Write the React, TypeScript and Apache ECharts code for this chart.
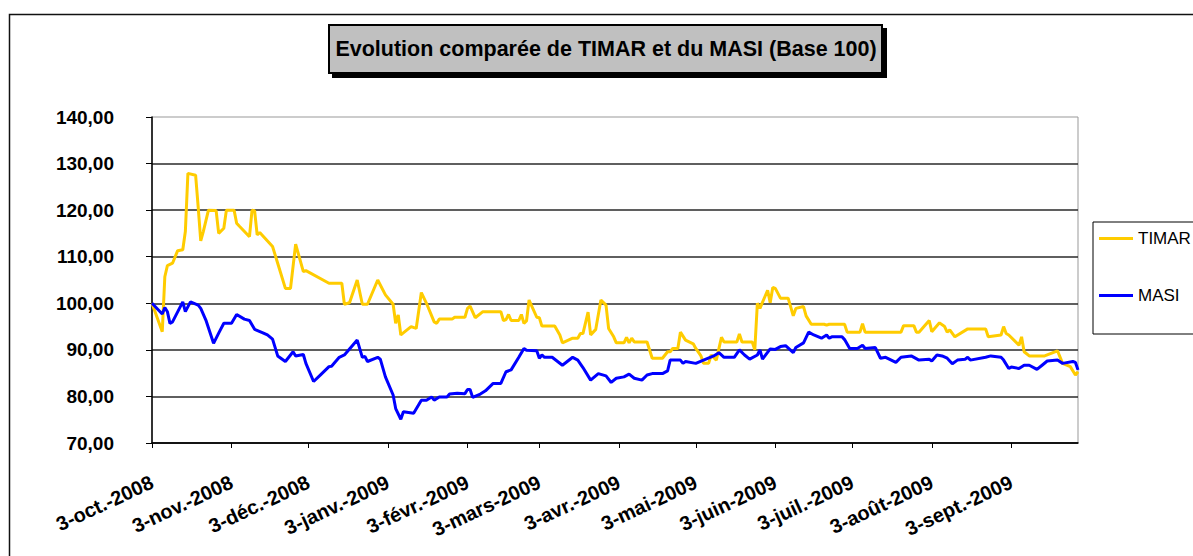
import React, { useEffect, useRef } from 'react';
import * as echarts from 'echarts';

const START_DAY = '2008-10-03';
const END_DAY = '2009-09-29';
const MONTHS_FR = ['janv.', 'févr.', 'mars', 'avr.', 'mai', 'juin', 'juil.', 'août', 'sept.', 'oct.', 'nov.', 'déc.'];
const Y_MIN = 70;
const Y_MAX = 140;
const Y_STEP = 10;
const TITLE = 'Evolution comparée de TIMAR et du MASI (Base 100)';
const SERIES_NAMES = ['TIMAR', 'MASI'];

const timar: [string, number][] = [
  ['2008-10-03', 100], ['2008-10-07', 93.9], ['2008-10-08', 105.7], ['2008-10-09', 108.1], ['2008-10-11', 108.6],
  ['2008-10-13', 111.3], ['2008-10-15', 111.5], ['2008-10-16', 115.4], ['2008-10-17', 127.9], ['2008-10-20', 127.5],
  ['2008-10-21', 120.7], ['2008-10-22', 113.4], ['2008-10-23', 115.4], ['2008-10-25', 120], ['2008-10-28', 119.9],
  ['2008-10-29', 115], ['2008-10-31', 116.1], ['2008-11-01', 120], ['2008-11-04', 120], ['2008-11-05', 117.2],
  ['2008-11-06', 116.6], ['2008-11-10', 114.3], ['2008-11-11', 120], ['2008-11-12', 119.9], ['2008-11-13', 114.7],
  ['2008-11-14', 115.2], ['2008-11-19', 112.2], ['2008-11-20', 110.4], ['2008-11-21', 108.6], ['2008-11-24', 103.2],
  ['2008-11-26', 103.2], ['2008-11-28', 112.7], ['2008-12-01', 106.8], ['2008-12-02', 107], ['2008-12-11', 104.3],
  ['2008-12-16', 104.3], ['2008-12-17', 99.8], ['2008-12-19', 100.1], ['2008-12-22', 105], ['2008-12-24', 99.8],
  ['2008-12-26', 99.8], ['2008-12-30', 105], ['2009-01-02', 101.8], ['2009-01-05', 99.8], ['2009-01-06', 95.7],
  ['2009-01-07', 97.5], ['2009-01-08', 93.2], ['2009-01-12', 95], ['2009-01-14', 94.6], ['2009-01-16', 102.3],
  ['2009-01-18', 100], ['2009-01-21', 96], ['2009-01-22', 95.7], ['2009-01-23', 96.6], ['2009-01-28', 96.6],
  ['2009-01-29', 97], ['2009-02-02', 97], ['2009-02-03', 98.9], ['2009-02-04', 99.4], ['2009-02-06', 96.9],
  ['2009-02-09', 98.2], ['2009-02-16', 98.2], ['2009-02-17', 96.3], ['2009-02-18', 96.5], ['2009-02-19', 97.6],
  ['2009-02-20', 96.3], ['2009-02-23', 96.3], ['2009-02-24', 97.6], ['2009-02-25', 95.7], ['2009-02-26', 96.2],
  ['2009-02-27', 100.7], ['2009-03-02', 97], ['2009-03-03', 96.9], ['2009-03-04', 95.1], ['2009-03-09', 95.1],
  ['2009-03-11', 93.2], ['2009-03-12', 91.5], ['2009-03-16', 92.5], ['2009-03-18', 92.5], ['2009-03-19', 93.5],
  ['2009-03-20', 93.5], ['2009-03-22', 98.1], ['2009-03-23', 93.2], ['2009-03-25', 94.4], ['2009-03-27', 100.7],
  ['2009-03-29', 99.6], ['2009-03-30', 94.6], ['2009-04-01', 92.8], ['2009-04-02', 91.5], ['2009-04-05', 91.5],
  ['2009-04-06', 92.7], ['2009-04-07', 91.5], ['2009-04-08', 92.5], ['2009-04-09', 91.7], ['2009-04-14', 91.7],
  ['2009-04-16', 88.2], ['2009-04-20', 88.2], ['2009-04-22', 89.6], ['2009-04-23', 89.6], ['2009-04-24', 90.3],
  ['2009-04-26', 90.3], ['2009-04-27', 93.8], ['2009-04-29', 92.1], ['2009-05-02', 91.3], ['2009-05-03', 90.3],
  ['2009-05-05', 88.7], ['2009-05-06', 87.1], ['2009-05-08', 87.1], ['2009-05-09', 88.9], ['2009-05-11', 87.8],
  ['2009-05-13', 92.7], ['2009-05-14', 91.7], ['2009-05-19', 91.7], ['2009-05-20', 93.4], ['2009-05-21', 91.7],
  ['2009-05-25', 91.7], ['2009-05-26', 90], ['2009-05-27', 100], ['2009-05-28', 98.9], ['2009-05-31', 102.8],
  ['2009-06-01', 100.1], ['2009-06-02', 103.4], ['2009-06-03', 103.2], ['2009-06-05', 101.1], ['2009-06-08', 101.1],
  ['2009-06-10', 97.3], ['2009-06-11', 98.9], ['2009-06-14', 99.3], ['2009-06-15', 97.3], ['2009-06-17', 95.5],
  ['2009-06-22', 95.5], ['2009-06-23', 95.3], ['2009-06-24', 95.5], ['2009-06-30', 95.5], ['2009-07-01', 93.8],
  ['2009-07-06', 93.8], ['2009-07-07', 95.6], ['2009-07-08', 93.8], ['2009-07-22', 93.8], ['2009-07-23', 95.2],
  ['2009-07-27', 95.2], ['2009-07-28', 93.8], ['2009-07-29', 93.8], ['2009-08-02', 96.3], ['2009-08-03', 93.9],
  ['2009-08-06', 95.8], ['2009-08-08', 95], ['2009-08-09', 93.8], ['2009-08-10', 94.3], ['2009-08-12', 92.8],
  ['2009-08-17', 94.5], ['2009-08-24', 94.5], ['2009-08-25', 92.8], ['2009-08-30', 93.2], ['2009-08-31', 95],
  ['2009-09-01', 93.5], ['2009-09-02', 93.2], ['2009-09-06', 91], ['2009-09-07', 92.8], ['2009-09-08', 89.6],
  ['2009-09-10', 88.7], ['2009-09-16', 88.7], ['2009-09-21', 89.8], ['2009-09-23', 87.1], ['2009-09-26', 86.4],
  ['2009-09-28', 84.6], ['2009-09-29', 85.3],
];

const masi: [string, number][] = [
  ['2008-10-03', 100], ['2008-10-07', 97.7], ['2008-10-08', 99.1], ['2008-10-09', 98.2], ['2008-10-10', 95.7],
  ['2008-10-11', 96], ['2008-10-15', 100.3], ['2008-10-16', 98.2], ['2008-10-18', 100.3], ['2008-10-21', 99.6],
  ['2008-10-22', 98.9], ['2008-10-24', 96.4], ['2008-10-27', 91.4], ['2008-10-29', 93.6], ['2008-10-31', 95.7],
  ['2008-11-03', 95.7], ['2008-11-05', 97.6], ['2008-11-08', 96.6], ['2008-11-10', 96.3], ['2008-11-12', 94.4],
  ['2008-11-15', 93.7], ['2008-11-17', 93.2], ['2008-11-19', 92.3], ['2008-11-21', 88.7], ['2008-11-24', 87.5],
  ['2008-11-27', 89.6], ['2008-11-28', 88.7], ['2008-12-01', 89], ['2008-12-02', 87.1], ['2008-12-05', 83.2],
  ['2008-12-08', 84.8], ['2008-12-11', 86.4], ['2008-12-12', 86.5], ['2008-12-15', 88.4], ['2008-12-17', 88.9],
  ['2008-12-22', 92.1], ['2008-12-24', 88.4], ['2008-12-25', 88.6], ['2008-12-26', 87.5], ['2008-12-30', 88.4],
  ['2008-12-31', 88], ['2009-01-02', 84.2], ['2009-01-05', 80.3], ['2009-01-06', 77.4], ['2009-01-08', 75.1],
  ['2009-01-09', 76.7], ['2009-01-13', 76.4], ['2009-01-16', 79.2], ['2009-01-18', 79.2], ['2009-01-20', 79.9],
  ['2009-01-21', 79.2], ['2009-01-23', 79.9], ['2009-01-26', 79.9], ['2009-01-27', 80.5], ['2009-01-30', 80.7],
  ['2009-02-02', 80.6], ['2009-02-03', 81.5], ['2009-02-04', 81.5], ['2009-02-05', 79.8], ['2009-02-08', 80.5],
  ['2009-02-10', 81.2], ['2009-02-13', 82.8], ['2009-02-16', 82.8], ['2009-02-18', 85.3], ['2009-02-20', 85.7],
  ['2009-02-23', 88.4], ['2009-02-25', 90.3], ['2009-02-26', 89.9], ['2009-03-02', 89.8], ['2009-03-03', 88.2],
  ['2009-03-04', 88.9], ['2009-03-05', 88.4], ['2009-03-08', 88.4], ['2009-03-12', 86.7], ['2009-03-16', 88.4],
  ['2009-03-18', 87.8], ['2009-03-20', 86.2], ['2009-03-23', 83.5], ['2009-03-26', 84.9], ['2009-03-29', 84.4],
  ['2009-03-31', 83], ['2009-04-02', 83.9], ['2009-04-05', 84.2], ['2009-04-07', 84.8], ['2009-04-09', 83.9],
  ['2009-04-12', 83.5], ['2009-04-14', 84.6], ['2009-04-16', 84.9], ['2009-04-20', 84.9], ['2009-04-22', 85.5],
  ['2009-04-23', 87.8], ['2009-04-27', 87.8], ['2009-04-28', 87.1], ['2009-04-29', 87.5], ['2009-05-03', 87.1],
  ['2009-05-06', 87.8], ['2009-05-10', 88.7], ['2009-05-12', 89.4], ['2009-05-14', 88.4], ['2009-05-18', 88.4],
  ['2009-05-20', 90], ['2009-05-22', 88.9], ['2009-05-24', 88], ['2009-05-27', 88.9], ['2009-05-28', 90],
  ['2009-05-29', 88], ['2009-06-01', 90.2], ['2009-06-03', 90.1], ['2009-06-05', 90.7], ['2009-06-07', 90.9],
  ['2009-06-10', 89.4], ['2009-06-11', 90.5], ['2009-06-14', 91.5], ['2009-06-16', 93.8], ['2009-06-18', 93.2],
  ['2009-06-21', 92.5], ['2009-06-23', 93.2], ['2009-06-24', 92.5], ['2009-06-25', 92.8], ['2009-06-29', 92.8],
  ['2009-06-30', 92.2], ['2009-07-02', 90.3], ['2009-07-05', 90.3], ['2009-07-07', 91], ['2009-07-08', 90.3],
  ['2009-07-12', 90.5], ['2009-07-14', 88.2], ['2009-07-16', 88.4], ['2009-07-20', 87.3], ['2009-07-22', 88.4],
  ['2009-07-26', 88.7], ['2009-07-29', 87.8], ['2009-08-02', 88], ['2009-08-03', 87.6], ['2009-08-05', 88.9],
  ['2009-08-07', 88.7], ['2009-08-09', 88.2], ['2009-08-11', 87], ['2009-08-13', 87.8], ['2009-08-16', 88],
  ['2009-08-17', 88.4], ['2009-08-18', 87.8], ['2009-08-24', 88.4], ['2009-08-26', 88.7], ['2009-08-30', 88.4],
  ['2009-08-31', 87.8], ['2009-09-02', 86], ['2009-09-03', 86.3], ['2009-09-06', 86], ['2009-09-08', 86.7],
  ['2009-09-10', 86.7], ['2009-09-13', 85.8], ['2009-09-15', 86.7], ['2009-09-17', 87.6], ['2009-09-21', 87.8],
  ['2009-09-23', 87.1], ['2009-09-27', 87.5], ['2009-09-28', 87.3], ['2009-09-29', 85.7],
];

function buildDays(start: string, end: string): string[] {
  const out: string[] = [];
  const d = new Date(start + 'T00:00:00Z');
  const e = new Date(end + 'T00:00:00Z');
  while (d.getTime() <= e.getTime()) {
    out.push(d.toISOString().slice(0, 10));
    d.setUTCDate(d.getUTCDate() + 1);
  }
  return out;
}

const days = buildDays(START_DAY, END_DAY);

function frLabel(iso: string): string {
  const [y, m, dd] = iso.split('-');
  return `${Number(dd)}-${MONTHS_FR[Number(m) - 1]}-${y}`;
}

const isTickDay = (_i: number, v: string) => typeof v === 'string' && v.endsWith('-03');

const FONT = '"Liberation Sans", Arial, sans-serif';

export default function App() {
  const ref = useRef<HTMLDivElement>(null);

  useEffect(() => {
    if (!ref.current) return;
    const chart = echarts.init(ref.current, null, { renderer: 'svg' });
    chart.setOption({
      animation: false,
      backgroundColor: '#ffffff',
      grid: {
        left: 152,
        right: 115,
        top: 117,
        bottom: 113,
        show: true,
        borderColor: '#999999',
        borderWidth: 1,
        backgroundColor: 'transparent',
      },
      xAxis: {
        type: 'category',
        data: days,
        boundaryGap: false,
        axisLine: { show: true, lineStyle: { color: '#000', width: 1.5 } },
        axisTick: { show: true, interval: isTickDay, length: 5, lineStyle: { color: '#000', width: 1 } },
        axisLabel: {
          interval: isTickDay,
          formatter: (v: string) => frLabel(v),
          rotate: 25,
          margin: 38,
          fontFamily: FONT,
          fontWeight: 'bold',
          fontSize: 20,
          color: '#000',
        },
        splitLine: { show: false },
      },
      yAxis: {
        type: 'value',
        min: Y_MIN,
        max: Y_MAX,
        interval: Y_STEP,
        axisLine: { show: true, lineStyle: { color: '#000', width: 1.5 } },
        axisTick: { show: true, length: 6, lineStyle: { color: '#000', width: 1 } },
        axisLabel: {
          formatter: (v: number) => v.toFixed(2).replace('.', ','),
          margin: 38,
          fontFamily: FONT,
          fontWeight: 'bold',
          fontSize: 19,
          color: '#000',
        },
        splitLine: { show: true, showMaxLine: false, lineStyle: { color: '#2a2a2a', width: 1.5 } },
      },
      legend: {
        orient: 'vertical',
        left: 1093,
        top: 222,
        padding: [8, 20, 30, 6],
        itemWidth: 34,
        itemHeight: 3,
        itemGap: 40,
        icon: 'rect',
        borderColor: '#000',
        borderWidth: 1,
        backgroundColor: '#fff',
        data: SERIES_NAMES,
        textStyle: { fontFamily: FONT, fontSize: 17, color: '#000' },
      },
      series: [
        {
          name: SERIES_NAMES[0],
          type: 'line',
          data: timar,
          symbol: 'none',
          lineStyle: { color: '#FFCC00', width: 3 },
          itemStyle: { color: '#FFCC00' },
          z: 3,
        },
        {
          name: SERIES_NAMES[1],
          type: 'line',
          data: masi,
          symbol: 'none',
          lineStyle: { color: '#0000FF', width: 3 },
          itemStyle: { color: '#0000FF' },
          z: 4,
        },
      ],
      graphic: [
        {
          type: 'rect',
          silent: true,
          z: -10,
          shape: { x: 9.5, y: 14.5, width: 1400, height: 800 },
          style: { fill: 'none', stroke: '#111', lineWidth: 1.5 },
        },
        {
          type: 'rect',
          silent: true,
          z: 10,
          shape: { x: 333, y: 29, width: 553, height: 48 },
          style: { fill: '#000', stroke: '#000', lineWidth: 2 },
        },
        {
          type: 'rect',
          silent: true,
          z: 11,
          shape: { x: 329, y: 25, width: 553, height: 48 },
          style: { fill: '#c0c0c0', stroke: '#000', lineWidth: 2 },
        },
        {
          type: 'text',
          silent: true,
          z: 12,
          x: 606,
          y: 49,
          style: {
            text: TITLE,
            fontFamily: FONT,
            fontWeight: 'bold',
            fontSize: 21.5,
            fill: '#000',
            align: 'center',
            verticalAlign: 'middle',
          },
        },
      ],
    });
    return () => chart.dispose();
  }, []);

  return (
    <div
      ref={ref}
      style={{ position: 'fixed', left: 0, top: 0, width: 1193, height: 556, background: '#fff' }}
    />
  );
}
